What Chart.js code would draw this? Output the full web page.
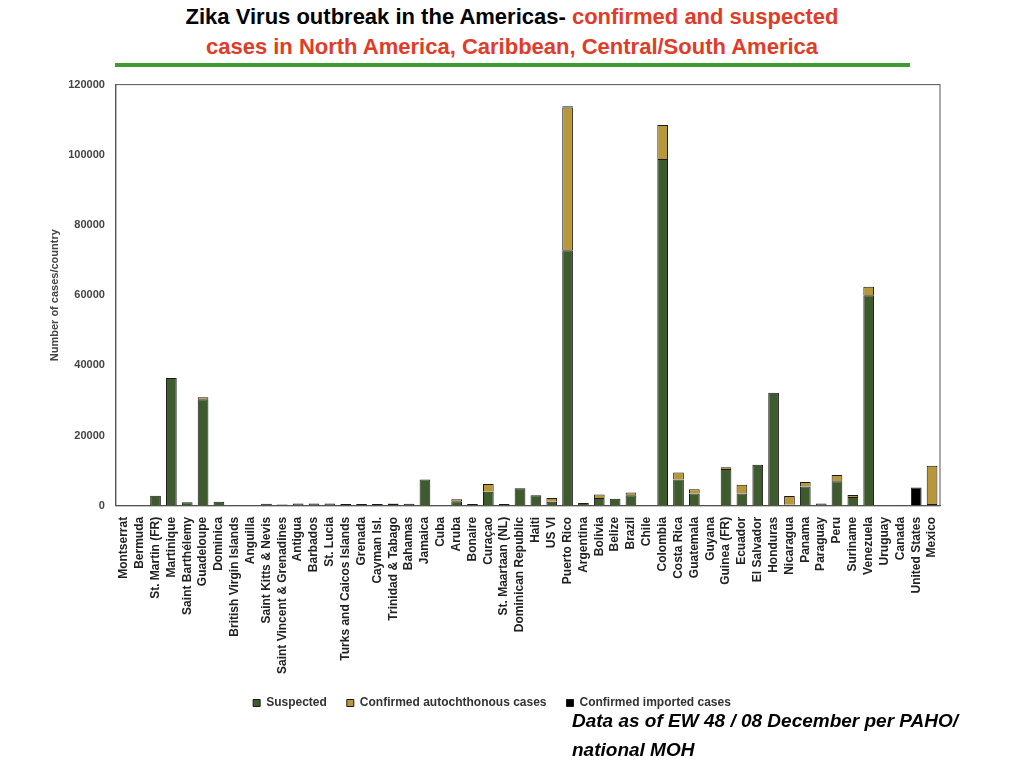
<!DOCTYPE html>
<html>
<head>
<meta charset="utf-8">
<script src="https://cdn.jsdelivr.net/npm/chart.js@4"></script>
<style>
  body { margin: 0; background: #fff; font-family: "Liberation Sans", Arial, sans-serif; }
  #title { position: absolute; left: 0; width: 1024px; top: 2px; text-align: center; font-weight: bold; font-size: 22px; line-height: 30px; }
  #title .red { color: #e03c28; }
  #rule { position: absolute; left: 115px; top: 63px; width: 795px; height: 4px; background: #3f9a2f; }
  #wrap { position: absolute; left: 44px; top: 75px; width: 916px; height: 644px; }
  #note { position: absolute; left: 572px; top: 706px; font-weight: bold; font-style: italic; font-size: 19px; line-height: 29px; }
</style>
</head>
<body>
<div id="title">Zika Virus outbreak in the Americas- <span class="red">confirmed and suspected</span><br><span class="red">cases in North America, Caribbean, Central/South America</span></div>
<div id="rule"></div>
<div id="wrap"><canvas id="chart"></canvas></div>
<div id="note">Data as of EW 48 / 08 December per PAHO/<br>national MOH</div>
<script>
const countries = ['Montserrat','Bermuda','St. Martin (FR)','Martinique','Saint Barthélemy','Guadeloupe','Dominica','British Virgin Islands','Anguilla','Saint Kitts & Nevis','Saint Vincent & Grenadines','Antigua','Barbados','St. Lucia','Turks and Caicos Islands','Grenada','Cayman Isl.','Trinidad & Tabago','Bahamas','Jamaica','Cuba','Aruba','Bonaire','Curaçao','St. Maartaan (NL)','Dominican Republic','Haiti','US VI','Puerto Rico','Argentina','Bolivia','Belize','Brazil','Chile','Colombia','Costa Rica','Guatemala','Guyana','Guinea (FR)','Ecuador','El Salvador','Honduras','Nicaragua','Panama','Paraguay','Peru','Suriname','Venezuela','Uruguay','Canada','United States','Mexico'];
const suspected = [100,50,2900,36400,1000,30400,1200,200,100,600,400,700,700,700,500,500,500,500,600,7500,100,1300,500,4000,500,5000,3000,1200,72800,800,2200,2000,3000,0,98800,7500,3500,100,10500,3500,11700,32200,300,5500,700,7000,2500,60000,0,0,0,500];
const confirmedAuto = [0,0,0,0,0,500,0,0,0,0,0,0,0,0,0,0,0,200,0,0,0,600,0,2200,0,0,0,1000,40700,0,1000,0,800,0,9700,2000,1200,0,500,2500,0,0,2500,1300,0,1800,600,2400,0,0,0,10900];
const confirmedImported = [0,0,0,0,0,0,0,0,0,0,0,0,0,0,0,0,0,0,0,0,0,0,0,0,0,0,0,0,300,0,0,0,0,150,0,0,0,0,0,0,0,0,0,0,0,0,0,0,80,150,5200,0];

new Chart(document.getElementById('chart'), {
  type: 'bar',
  data: {
    labels: countries,
    datasets: [
      { label: 'Suspected', data: suspected, backgroundColor: '#3e5b2e' },
      { label: 'Confirmed autochthonous cases', data: confirmedAuto, backgroundColor: '#b8963a' },
      { label: 'Confirmed imported cases', data: confirmedImported, backgroundColor: '#000' }
    ]
  },
  options: {
    responsive: true,
    maintainAspectRatio: false,
    animation: false,
    datasets: { bar: { borderColor: '#1a1a1a', borderWidth: 1, categoryPercentage: 0.75, barPercentage: 0.9 } },
    layout: { padding: { top: 0, right: 20 } },
    plugins: {
      legend: {
        position: 'bottom',
        labels: { boxWidth: 7, boxHeight: 7, font: { size: 12, weight: 'bold', family: 'Liberation Sans' }, color: '#333', padding: 20 }
      },
      tooltip: { enabled: false }
    },
    scales: {
      x: {
        stacked: true,
        grid: { display: false },
        border: { color: '#555' },
        ticks: { autoSkip: false, maxRotation: 90, minRotation: 90, color: '#222', font: { size: 12, weight: 'bold', family: 'Liberation Sans' } }
      },
      y: {
        stacked: true,
        min: 0, max: 120000,
        ticks: { stepSize: 20000, color: '#444', font: { size: 11, weight: 'bold', family: 'Liberation Sans' }, callback: v => String(v) },
        grid: { display: false },
        border: { color: '#555' },
        title: { display: true, text: 'Number of cases/country', color: '#444', font: { size: 11, weight: 'bold', family: 'Liberation Sans' } }
      }
    }
  },
  plugins: [{
    id: 'frame',
    afterDraw(c) {
      const a = c.chartArea, x = c.ctx;
      x.save(); x.strokeStyle = '#555'; x.lineWidth = 1;
      x.strokeRect(a.left, a.top, a.right - a.left, a.bottom - a.top);
      x.restore();
    }
  }]
});
</script>
</body>
</html>
